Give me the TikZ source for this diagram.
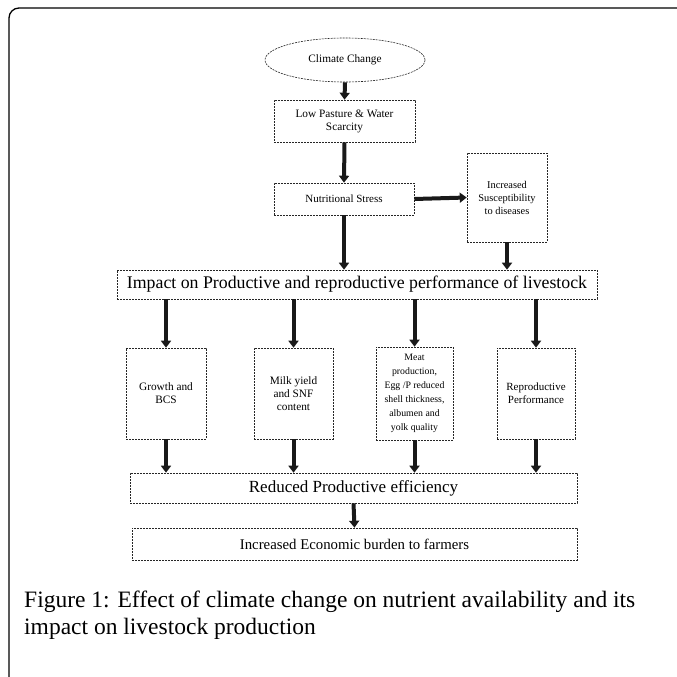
\documentclass[tikz,border=0pt]{standalone}
\usepackage{fontspec}
\setmainfont{Liberation Serif}
\usetikzlibrary{arrows.meta,shapes.geometric,calc}
\tikzset{
  bx/.style={draw=black!85, line width=0.6pt, dash pattern=on 2pt off 1pt, rectangle, inner sep=2pt, align=center},
  arr/.style={line width=4pt, draw=black!90, solid, -{Triangle[length=7pt,width=10pt]}},
  sm/.style={font=\fontsize{11.3}{13}\selectfont},
}
\begin{document}
\begin{tikzpicture}[x=1pt,y=-1pt]
\useasboundingbox (0,0) rectangle (677,677);
% frame
\draw[line width=1.3pt] (9,677) -- (9,18) arc[start angle=180,end angle=270,radius=10] -- (677,8);
% nodes
\node[bx, ellipse, minimum width=160, minimum height=44, sm] (cc) at (345,60) {Climate Change};
\node[bx, minimum width=141, minimum height=42, sm] (lp) at (344.5,121) {Low Pasture \& Water\\Scarcity};
\node[bx, minimum width=140, minimum height=32, font=\fontsize{11}{13}\selectfont] (ns) at (344,199) {Nutritional Stress};
\node[bx, minimum width=80, minimum height=89, font=\fontsize{10.4}{13}\selectfont] (sus) at (507,197.5) {Increased\\Susceptibility\\to diseases};
\node[bx, minimum width=480, minimum height=29, font=\fontsize{17.8}{20}\selectfont] (imp) at (357,284.5) {Impact on Productive and reproductive performance of livestock};
\node[bx, minimum width=80, minimum height=91, sm] (gr) at (166,393.5) {Growth and\\BCS};
\node[bx, minimum width=79, minimum height=91, sm] (mk) at (293.5,393.5) {Milk yield\\and SNF\\content};
\node[bx, minimum width=77, minimum height=93, font=\fontsize{9.8}{14}\selectfont] (mt) at (414.5,393.5) {Meat\\production,\\Egg /P reduced\\shell thickness,\\albumen and\\yolk quality};
\node[bx, minimum width=78, minimum height=91, font=\fontsize{11}{13}\selectfont] (rp) at (536,393.5) {Reproductive\\Performance};
\node[bx, minimum width=447, minimum height=30, font=\fontsize{17}{19}\selectfont] (red) at (353.5,488) {Reduced Productive efficiency};
\node[bx, minimum width=445, minimum height=32, font=\fontsize{14.8}{17}\selectfont] (eco) at (354.5,544) {Increased Economic burden to farmers};
% arrows
\draw[arr] (cc.south) -- (lp.north);
\draw[arr] (lp.south) -- (ns.north);
\draw[arr] (ns.east) -- (sus.west);
\draw[arr] (ns.south) -- (ns.south |- imp.north);
\draw[arr] (sus.south) -- (sus.south |- imp.north);
\foreach \b in {gr,mk,mt,rp}{
  \draw[arr] (imp.south -| \b.north) -- (\b.north);
  \draw[arr] (\b.south) -- (\b.south |- red.north);
}
\draw[arr] (red.south) -- (eco.north);
% caption
\node[anchor=base west, align=left, inner sep=0pt, font=\fontsize{23.5}{27}\selectfont] (cap) at (24,634) {Figure 1: Effect of climate change on nutrient availability and its\\impact on livestock production};
\end{tikzpicture}
\end{document}
